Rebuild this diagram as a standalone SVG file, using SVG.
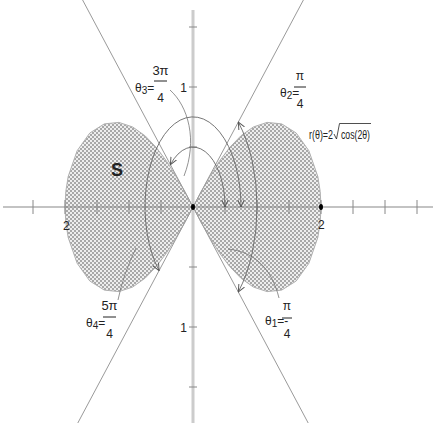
<svg xmlns="http://www.w3.org/2000/svg" width="438" height="423" viewBox="0 0 438 423">
<defs>
<pattern id="dots" width="4" height="4" patternUnits="userSpaceOnUse">
<rect width="4" height="4" fill="#eeeeee"/>
<rect x="0" y="0" width="2" height="2" fill="#a8a8a8"/>
<rect x="2" y="2" width="2" height="2" fill="#a8a8a8"/>
</pattern>
<marker id="ah" viewBox="0 0 10 10" refX="9" refY="5" markerWidth="8" markerHeight="8" markerUnits="userSpaceOnUse" orient="auto-start-reverse">
<path d="M0,1 L9,5 L0,9" fill="none" stroke="#555" stroke-width="1.2"/>
</marker>
</defs>
<style>
.ax{stroke:#888;stroke-width:1.2;fill:none}
.yax{stroke:#ccc;stroke-width:3;fill:none}
.tk{stroke:#888;stroke-width:1}
.ln{stroke:#9a9a9a;stroke-width:1;fill:none}
.lobe{fill:url(#dots);stroke:#b0b0b0;stroke-width:1}
.arc{fill:none;stroke:#666;stroke-width:0.9}
.ptr{fill:none;stroke:#777;stroke-width:0.8}
.t{font-family:"Liberation Sans Narrow","Liberation Sans",Arial,sans-serif;fill:#222}
.bar{stroke:#222;stroke-width:1}
</style>
<rect width="438" height="423" fill="#fff"/>

<g id="lobes">
<path id="lobe-right" class="lobe" d="M193,207 L201.4,191.3 L210.1,176 L219.4,161.2 L229.6,147.6 L240.8,135.9 L253.3,127 L267.1,122.4 L281.7,123.9 L296.2,133 L308.9,150.8 L317.8,176.5 L320.2,191.4 L321,207 L320.2,222.6 L317.8,237.5 L308.9,263.2 L296.2,281 L281.7,290.1 L267.1,291.6 L253.3,287 L240.8,278.1 L229.6,266.4 L219.4,252.8 L210.1,238 L201.4,222.7 Z"/>
<path id="lobe-left" class="lobe" d="M193,207 L184.6,191.3 L175.9,176 L166.6,161.2 L156.4,147.6 L145.2,135.9 L132.7,127 L118.9,122.4 L104.3,123.9 L89.8,133 L77.1,150.8 L68.2,176.5 L65.8,191.4 L65,207 L65.8,222.6 L68.2,237.5 L77.1,263.2 L89.8,281 L104.3,290.1 L118.9,291.6 L132.7,287 L145.2,278.1 L156.4,266.4 L166.6,252.8 L175.9,238 L184.6,222.7 Z"/>
</g>

<g id="axes">
<line class="yax" x1="193" y1="10" x2="193" y2="423"/>
<line class="ax" x1="3" y1="207" x2="433" y2="207"/>
<line class="ln" x1="303.4" y1="0" x2="77.8" y2="423"/>
<line class="ln" x1="82.6" y1="0" x2="308.2" y2="423"/>
<g class="tk">
<line x1="33" y1="200" x2="33" y2="214"/>
<line x1="65" y1="200" x2="65" y2="214"/>
<line x1="97" y1="200" x2="97" y2="214"/>
<line x1="129" y1="200" x2="129" y2="214"/>
<line x1="161" y1="200" x2="161" y2="214"/>
<line x1="225" y1="200" x2="225" y2="214"/>
<line x1="257" y1="200" x2="257" y2="214"/>
<line x1="289" y1="200" x2="289" y2="214"/>
<line x1="321" y1="200" x2="321" y2="214"/>
<line x1="353" y1="200" x2="353" y2="214"/>
<line x1="385" y1="200" x2="385" y2="214"/>
<line x1="417" y1="200" x2="417" y2="214"/>
<line x1="189" y1="27" x2="197" y2="27"/>
<line x1="189" y1="87" x2="197" y2="87"/>
<line x1="189" y1="147" x2="197" y2="147"/>
<line x1="189" y1="267" x2="197" y2="267"/>
<line x1="189" y1="327" x2="197" y2="327"/>
<line x1="189" y1="387" x2="197" y2="387"/>
</g>
<ellipse cx="193" cy="207" rx="2" ry="3" fill="#000"/>
<ellipse cx="321" cy="207" rx="2" ry="3" fill="#000"/>
</g>

<g id="connectors">
<path class="arc" d="M225,207 A32,60 0 0 0 170.4,164.6" marker-start="url(#ah)" marker-end="url(#ah)"/>
<path class="arc" d="M241,207 A48,90 0 1 0 159.1,270.6" marker-start="url(#ah)" marker-end="url(#ah)"/>
<path class="arc" d="M238.3,291.9 A64,120 0 0 0 238.3,122.1" marker-start="url(#ah)" marker-end="url(#ah)"/>
<path class="ptr" d="M170,90 C188,106 198,140 184,176"/>
<path class="ptr" d="M279,298 C272,270 256,252 228,249"/>
<path class="ptr" d="M118,300 Q123,275 136,248"/>
</g>

<g id="labels">
<text class="t" x="111" y="176" font-size="18" font-weight="bold">S</text>
<text class="t" x="63" y="230" font-size="12">2</text>
<text class="t" x="318" y="229" font-size="12">2</text>
<text class="t" x="187" y="92" font-size="12" text-anchor="end">1</text>
<text class="t" x="187" y="332" font-size="12" text-anchor="end">1</text>

<g id="label-theta2">
<text class="t" x="280" y="97" font-size="12">θ<tspan font-size="10" dy="2">2</tspan><tspan dy="-2">=</tspan></text>
<line class="bar" x1="294" y1="87" x2="306" y2="87"/>
<text class="t" x="300" y="80" font-size="12" text-anchor="middle">π</text>
<text class="t" x="300" y="108" font-size="12" text-anchor="middle">4</text>
</g>
<g id="label-theta3">
<text class="t" x="135" y="92" font-size="12">θ<tspan font-size="10" dy="2">3</tspan><tspan dy="-2">=</tspan></text>
<line class="bar" x1="154" y1="81" x2="167" y2="81"/>
<text class="t" x="160.5" y="75" font-size="13" text-anchor="middle">3π</text>
<text class="t" x="160.5" y="102" font-size="12" text-anchor="middle">4</text>
</g>
<g id="label-theta1">
<text class="t" x="265" y="325" font-size="12">θ<tspan font-size="10" dy="2">1</tspan><tspan dy="-2">=-</tspan></text>
<line class="bar" x1="282" y1="318" x2="292" y2="318"/>
<text class="t" x="287" y="310" font-size="12" text-anchor="middle">π</text>
<text class="t" x="287" y="338" font-size="12" text-anchor="middle">4</text>
</g>
<g id="label-theta4">
<text class="t" x="86" y="327" font-size="12">θ<tspan font-size="10" dy="2">4</tspan><tspan dy="-2">=</tspan></text>
<line class="bar" x1="103" y1="317" x2="116" y2="317"/>
<text class="t" x="109.5" y="310" font-size="13" text-anchor="middle">5π</text>
<text class="t" x="109.5" y="338" font-size="12" text-anchor="middle">4</text>
</g>
<g id="label-formula">
<text class="t" x="309" y="139" font-size="12" textLength="24" lengthAdjust="spacingAndGlyphs">r(θ)=2</text>
<path d="M334,134 L336.5,139 L339.5,123.5 L371,123.5" fill="none" stroke="#222" stroke-width="0.8"/>
<text class="t" x="341" y="139" font-size="12" textLength="29" lengthAdjust="spacingAndGlyphs">cos(2θ)</text>
</g>
</g>
</svg>
